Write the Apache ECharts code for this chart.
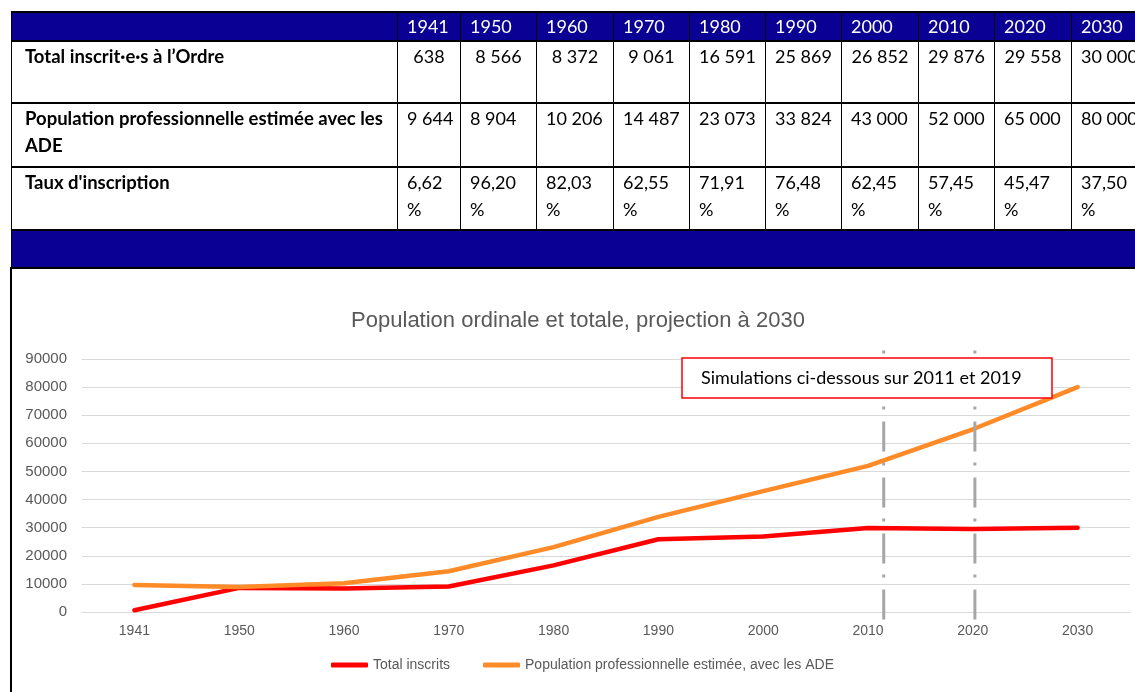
<!DOCTYPE html>
<html><head><meta charset="utf-8">
<script src="https://cdn.jsdelivr.net/npm/echarts/dist/echarts.min.js"></script>
<style>
html,body{margin:0;padding:0;width:1135px;height:692px;overflow:hidden;background:#fff;}
#chart{position:absolute;left:0;top:0;width:1135px;height:692px;}
#tbl{position:absolute;left:11px;top:11px;width:1136px;border-collapse:collapse;table-layout:fixed;font-family:Lato,'Open Sans',sans-serif;font-size:18px;color:#000;}
#tbl td{padding:0;vertical-align:top;border:1px solid #000;overflow:hidden;box-sizing:border-box;white-space:nowrap;}
#tbl tr.hd td{background:#0b0094;color:#fff;height:28px;line-height:27px;padding-left:9px;border-bottom:2px solid #000;border-top:2px solid #000;}
#tbl tr.r td{border-bottom:2px solid #000;line-height:27px;padding-top:1px;padding-left:9px;}
#tbl tr.r td.lab{font-weight:bold;font-size:18.5px;padding-left:13px;padding-right:4px;white-space:normal;}
#tbl tr.r1 td.num{text-align:center;padding-left:0;}
#tbl tr.band td{background:#0b0094;height:38px;border-bottom:2px solid #000;}
#frame{position:absolute;left:10px;top:267px;width:2px;height:425px;background:#000;}
</style></head>
<body>
<div id="chart"></div>
<table id="tbl"></table>
<div id="frame"></div>
<script>
const years = ['1941','1950','1960','1970','1980','1990','2000','2010','2020','2030'];
const totalInscrits = [638, 8566, 8372, 9061, 16591, 25869, 26852, 29876, 29558, 30000];
const populationADE = [9644, 8904, 10206, 14487, 23073, 33824, 43000, 52000, 65000, 80000];
const tauxInscription = [6.62, 96.20, 82.03, 62.55, 71.91, 76.48, 62.45, 57.45, 45.47, 37.50];
const rowLabels = ['Total inscrit·e·s à l’Ordre', 'Population professionnelle estimée avec les ADE', "Taux d'inscription"];
const seriesNames = ['Total inscrits', 'Population professionnelle estimée, avec les ADE'];
const chartTitle = 'Population ordinale et totale, projection à 2030';
const noteText = 'Simulations ci-dessous sur 2011 et 2019';
const simLinePositions = [7.15, 8.02]; // category-index positions of the two simulation markers
const simLineRange = [-2700, 93000];

// ---------- table ----------
const colW = [386, 63, 76, 77, 76, 76, 76, 77, 76, 77, 76];
const fmtInt = v => String(v).replace(/\B(?=(\d{3})+(?!\d))/g, ' ');
const fmtPct = v => v.toFixed(2).replace('.', ',') + '<br>%';
let html = '<colgroup>' + colW.map(w => `<col style="width:${w}px">`).join('') + '</colgroup>';
html += '<tr class="hd"><td></td>' + years.map(y => `<td>${y}</td>`).join('') + '</tr>';
html += `<tr class="r r1" style="height:62px"><td class="lab">${rowLabels[0]}</td>` + totalInscrits.map(v => `<td class="num">${fmtInt(v)}</td>`).join('') + '</tr>';
html += `<tr class="r r2" style="height:64px"><td class="lab">${rowLabels[1]}</td>` + populationADE.map(v => `<td class="num">${fmtInt(v)}</td>`).join('') + '</tr>';
html += `<tr class="r r3" style="height:63px"><td class="lab">${rowLabels[2]}</td>` + tauxInscription.map(v => `<td class="num">${fmtPct(v)}</td>`).join('') + '</tr>';
html += `<tr class="band"><td colspan="${years.length + 1}"></td></tr>`;
document.getElementById('tbl').innerHTML = html;

// ---------- chart ----------
const chart = echarts.init(document.getElementById('chart'));
const txtFont = 'Liberation Sans';
const simSeries = simLinePositions.map(p => ({
  type: 'line', xAxisIndex: 1, data: [[p, simLineRange[0]], [p, simLineRange[1]]],
  symbol: 'none', clip: false, silent: true, z: 4,
  lineStyle: { color: '#a6a6a6', width: 3, type: [30, 12, 3, 11], cap: 'butt' }
}));
chart.setOption({
  animation: false,
  title: {
    text: chartTitle, left: 578, top: 310, textAlign: 'center', padding: 0,
    textStyle: { fontFamily: txtFont, fontSize: 22, fontWeight: 'normal', color: '#595959' }
  },
  grid: { left: 82, right: 5, top: 359, height: 253 },
  legend: {
    data: seriesNames, left: 331, top: 658, padding: 0, itemWidth: 37, itemHeight: 5, itemGap: 33, icon: 'roundRect',
    textStyle: { color: '#595959', fontSize: 14, fontFamily: txtFont }
  },
  xAxis: [
    { type: 'category', data: years, boundaryGap: true,
      axisLine: { lineStyle: { color: '#d9d9d9' } }, axisTick: { show: false },
      axisLabel: { color: '#595959', fontSize: 14, margin: 12, fontFamily: txtFont } },
    { type: 'value', min: -0.5, max: 9.5, show: false }
  ],
  yAxis: {
    type: 'value', min: 0, max: 90000, interval: 10000,
    axisLine: { show: false }, axisTick: { show: false },
    axisLabel: { color: '#595959', fontSize: 15, margin: 15, fontFamily: txtFont, formatter: v => String(v) },
    splitLine: { lineStyle: { color: '#d9d9d9', width: 1 } }
  },
  series: [
    { name: seriesNames[0], type: 'line', data: totalInscrits, symbol: 'none', color: '#ff0000',
      lineStyle: { width: 4.5, color: '#ff0000', cap: 'round', join: 'round' }, z: 2 },
    { name: seriesNames[1], type: 'line', data: populationADE, symbol: 'none', color: '#ff8a28',
      lineStyle: { width: 4.5, color: '#ff8a28', cap: 'round', join: 'round' }, z: 3 },
    ...simSeries
  ],
  graphic: [
    { type: 'rect', z: 100, shape: { x: 682, y: 358, width: 370, height: 40 },
      style: { fill: '#fff', stroke: '#ff0000', lineWidth: 1.5 } },
    { type: 'text', z: 101, left: 701, top: 369,
      style: { text: noteText, fill: '#000', font: '18px Lato' } }
  ]
});
</script>
</body></html>
